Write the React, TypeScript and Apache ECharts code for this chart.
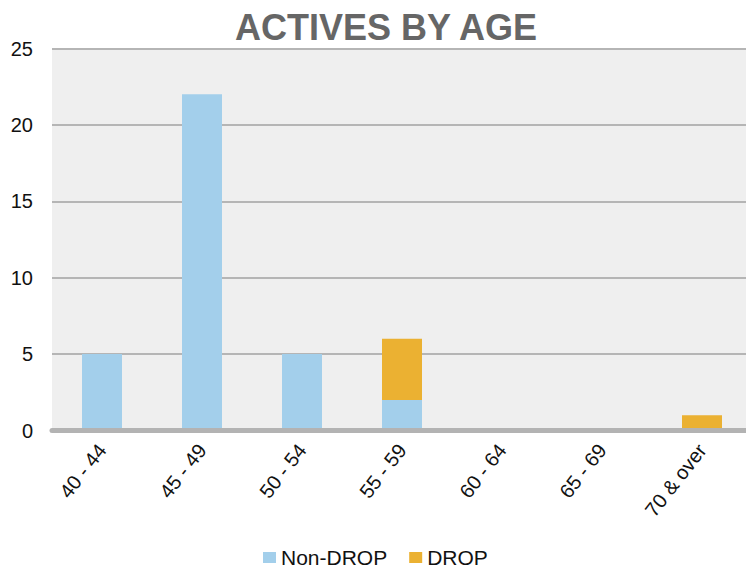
import React, { useEffect, useRef } from "react";
import * as echarts from "echarts";

const categories = ["40 - 44", "45 - 49", "50 - 54", "55 - 59", "60 - 64", "65 - 69", "70 & over"];
const nonDrop = [5, 22, 5, 2, 0, 0, 0];
const drop = [0, 0, 0, 4, 0, 0, 1];
const yTicks = { min: 0, max: 25, interval: 5 };

const FONT = "'Liberation Sans', Arial, sans-serif";

export default function App() {
  const ref = useRef<HTMLDivElement>(null);
  useEffect(() => {
    if (!ref.current) return;
    const chart = echarts.init(ref.current, null, { renderer: "svg" });
    chart.setOption({
      animation: false,
      backgroundColor: "#ffffff",
      title: {
        text: "ACTIVES BY AGE",
        left: 381,
        top: 4,
        textAlign: "center",
        textStyle: { fontFamily: FONT, fontSize: 36, fontWeight: "bold", color: "#666666" },
      },
      legend: {
        left: 263,
        top: 547,
        padding: 0,
        itemWidth: 13,
        itemHeight: 11,
        itemGap: 22,
        icon: "rect",
        textStyle: { fontFamily: FONT, fontSize: 21, color: "#111", lineHeight: 21 },
        data: ["Non-DROP", "DROP"],
      },
      grid: {
        left: 52,
        right: -6,
        top: 48.5,
        bottom: 138.5,
        containLabel: false,
        outerBoundsMode: "none",
        show: true,
        backgroundColor: "#efefef",
        borderWidth: 0,
      },
      xAxis: {
        type: "category",
        data: categories,
        z: 3,
        axisLine: { lineStyle: { color: "#b3b3b3", width: 5 } },
        axisTick: { show: false },
        axisLabel: {
          rotate: 52,
          margin: 16,
          fontFamily: FONT,
          fontSize: 20,
          color: "#111",
          interval: 0,
        },
      },
      yAxis: {
        type: "value",
        min: yTicks.min,
        max: yTicks.max,
        interval: yTicks.interval,
        axisLine: { show: false },
        axisTick: { show: false },
        splitLine: { lineStyle: { color: "#b5b5b5", width: 2 } },
        axisLabel: { margin: 19, fontFamily: FONT, fontSize: 20, color: "#111" },
      },
      series: [
        {
          name: "Non-DROP",
          type: "bar",
          stack: "total",
          barWidth: "40%",
          data: nonDrop,
          itemStyle: { color: "#a3cfeb" },
        },
        {
          name: "DROP",
          type: "bar",
          stack: "total",
          barWidth: "40%",
          data: drop,
          itemStyle: { color: "#ebb132" },
        },
      ],
    });
    return () => chart.dispose();
  }, []);
  return <div ref={ref} style={{ width: 746, height: 569, position: "absolute", left: 0, top: 0 }} />;
}
